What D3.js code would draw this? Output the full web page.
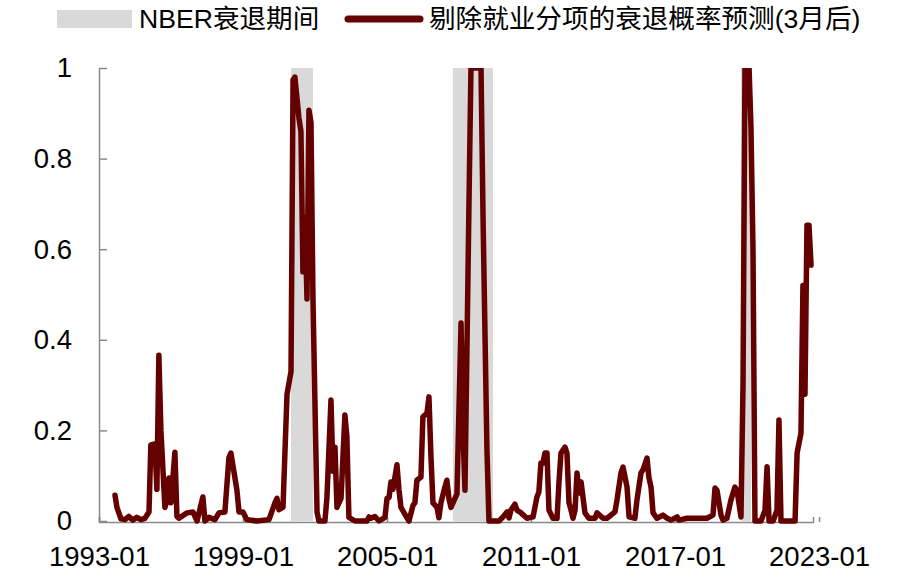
<!DOCTYPE html>
<html>
<head>
<meta charset="utf-8">
<script src="https://cdn.jsdelivr.net/npm/d3@7"></script>
<style>
  body { margin: 0; background: #fff; }
  text { font-family: "Liberation Sans", Arial, "Noto Sans CJK SC", sans-serif; fill: #000; }
</style>
</head>
<body>
<svg id="chart"></svg>
<script>
// series: recession probability forecast excluding employment (3 months ahead)
var dates = [
  "1993-09","1993-10","1993-12","1994-02","1994-04","1994-06","1994-08","1994-10","1994-12",
  "1995-02","1995-03","1995-05","1995-06","1995-07","1995-08","1995-10","1995-11","1995-12",
  "1996-01","1996-03","1996-04","1996-05","1996-09","1996-12","1997-02","1997-05","1997-06",
  "1997-08","1997-11","1998-01","1998-04","1998-06","1998-07","1998-10","1998-11","1999-01",
  "1999-03","1999-08","2000-02","2000-05","2000-06","2000-07","2000-09","2000-11","2001-01",
  "2001-02","2001-03","2001-05","2001-06","2001-07","2001-08","2001-09","2001-10","2001-11",
  "2001-12","2002-02","2002-03","2002-06","2002-07","2002-09","2002-10","2002-11","2002-12",
  "2003-02","2003-04","2003-05","2003-06","2003-09","2004-03","2004-04","2004-05","2004-07",
  "2004-09","2004-12","2005-01","2005-02","2005-03","2005-04","2005-06","2005-07","2005-08",
  "2005-11","2005-12","2006-02","2006-03","2006-04","2006-06","2006-07","2006-09","2006-10",
  "2006-11","2006-12","2007-02","2007-03","2007-04","2007-06","2007-07","2007-08","2007-09",
  "2007-11","2007-12","2008-02","2008-03","2008-04","2008-06","2008-07","2008-10","2008-12",
  "2009-01","2009-03","2009-04","2009-09","2009-11","2010-01","2010-02","2010-03","2010-05",
  "2010-06","2010-08","2010-11","2011-02","2011-04","2011-05","2011-06","2011-07","2011-08",
  "2011-09","2011-10","2011-12","2012-02","2012-03","2012-04","2012-06","2012-07","2012-08",
  "2012-09","2012-10","2012-11","2012-12","2013-01","2013-02","2013-04","2013-06","2013-09",
  "2013-10","2014-01","2014-03","2014-07","2014-08","2014-10","2014-11","2015-01","2015-02",
  "2015-05","2015-06","2015-08","2015-09","2015-11","2015-12","2016-01","2016-02","2016-04",
  "2016-07","2016-09","2016-11","2017-02","2017-03","2017-07","2017-12","2018-05","2018-08",
  "2018-09","2018-10","2018-12","2019-01","2019-03","2019-05","2019-07","2019-08","2019-10",
  "2019-11","2019-12","2020-02","2020-03","2020-04","2020-05","2020-08","2020-10","2020-11",
  "2020-12","2021-02","2021-04","2021-05","2021-06","2021-09","2022-01","2022-02","2022-04",
  "2022-05","2022-06","2022-07","2022-08","2022-09"
]
var probs = [
  0.057,0.03,0.005,0.003,0.01,0.002,0.008,0.003,0.006,
  0.02,0.168,0.17,0.07,0.366,0.2,0.03,0.046,0.095,
  0.04,0.152,0.01,0.006,0.018,0.02,0.0,0.053,0.0,
  0.008,0.003,0.018,0.02,0.14,0.15,0.068,0.02,0.02,
  0.003,0.0,0.003,0.04,0.05,0.025,0.03,0.28,0.33,
  0.974,0.98,0.89,0.86,0.55,0.67,0.49,0.907,0.88,
  0.49,0.02,0.0,0.0,0.05,0.267,0.11,0.163,0.03,
  0.05,0.234,0.186,0.008,0.0,0.0,0.009,0.006,0.01,
  0.0,0.008,0.05,0.052,0.086,0.07,0.124,0.07,0.03,
  0.007,0.0,0.035,0.04,0.09,0.097,0.23,0.238,0.274,
  0.14,0.04,0.03,0.007,0.04,0.075,0.09,0.05,0.03,
  0.05,0.06,0.437,0.2,0.068,0.70,1.0,1.0,1.0,
  0.67,0.16,0.0,0.0,0.009,0.02,0.007,0.024,0.037,
  0.024,0.018,0.006,0.009,0.053,0.064,0.128,0.128,0.15,
  0.15,0.024,0.006,0.006,0.084,0.15,0.163,0.15,0.04,
  0.024,0.006,0.024,0.106,0.062,0.086,0.018,0.006,0.006,
  0.018,0.006,0.006,0.02,0.046,0.106,0.119,0.075,0.009,
  0.006,0.046,0.106,0.113,0.139,0.095,0.075,0.018,0.006,
  0.013,0.006,0.002,0.009,0.002,0.006,0.006,0.006,0.013,
  0.073,0.068,0.013,0.002,0.006,0.046,0.075,0.068,0.009,
  0.3,1.0,1.0,0.87,0.6,0.0,0.0,0.024,0.12,
  0.0,0.0,0.024,0.223,0.0,0.0,0.0,0.15,0.194,
  0.52,0.28,0.653,0.653,0.565
]

// NBER recession periods (as shaded in the picture)
var recStart = ["2001-01", "2007-10", "2019-10"]
var recEnd = ["2001-12", "2009-06", "2020-03"]

// ticks
var xTickLabels = ["1993-01", "1999-01", "2005-01", "2011-01", "2017-01", "2023-01"]
var yTicks = [0, 0.2, 0.4, 0.6, 0.8, 1]

var legendLabels = ["NBER衰退期间", "剔除就业分项的衰退概率预测(3月后)"]

var width = 911, height = 580
var plot = {left: 99, right: 813, top: 68, bottom: 521}

var parseMonth = d3.timeParse("%Y-%m")

var svg = d3.select("#chart")
  .attr("width", width)
  .attr("height", height)

var x = d3.scaleTime()
  .domain([parseMonth("1993-01"), parseMonth("2022-10")])
  .range([plot.left, plot.right])

var y = d3.scaleLinear()
  .domain([0, 1])
  .range([plot.bottom, plot.top])

// recession shading
svg.append("g")
  .selectAll("rect")
  .data(recStart)
  .enter()
  .append("rect")
    .attr("x", function(d) { return x(parseMonth(d)); })
    .attr("width", function(d, i) { return x(parseMonth(recEnd[i])) - x(parseMonth(d)); })
    .attr("y", y(1))
    .attr("height", y(0) - y(1))
    .attr("fill", "#d9d9d9")

// y axis
var yAxis = d3.axisLeft(y)
  .tickValues(yTicks)
  .tickFormat(d3.format("~g"))
  .tickSizeInner(-8)
  .tickSizeOuter(0)
  .tickPadding(27)

var gy = svg.append("g")
  .attr("transform", "translate(" + plot.left + ",0)")
  .call(yAxis)
gy.select(".domain").attr("stroke", "#898989").attr("stroke-width", 1.5)
gy.selectAll(".tick line").attr("stroke", "#898989").attr("stroke-width", 1.5)
gy.selectAll(".tick text")
  .style("font-size", "27.5px")
  .attr("fill", "#000")

// x axis
var xAxis = d3.axisBottom(x)
  .tickValues(xTickLabels.map(parseMonth))
  .tickFormat(d3.timeFormat("%Y-%m"))
  .tickSizeInner(-5)
  .tickSizeOuter(-5)
  .tickPadding(0)

var gx = svg.append("g")
  .attr("transform", "translate(0," + (plot.bottom + 1) + ")")
  .call(xAxis)
gx.select(".domain").attr("stroke", "#898989").attr("stroke-width", 1.5)
gx.selectAll(".tick line").attr("stroke", "#898989").attr("stroke-width", 1.5)
gx.selectAll(".tick text")
  .style("font-size", "27.5px")
  .attr("fill", "#000")
  .attr("y", 44)
  .attr("dy", 0)

// clip line to plot area top
svg.append("clipPath")
  .attr("id", "clip")
  .append("rect")
    .attr("x", 0)
    .attr("y", plot.top)
    .attr("width", width)
    .attr("height", height - plot.top)

var line = d3.line()
  .x(function(d, i) { return x(parseMonth(dates[i])); })
  .y(function(d) { return y(d); })

svg.append("path")
  .datum(probs)
  .attr("clip-path", "url(#clip)")
  .attr("d", line)
  .attr("fill", "none")
  .attr("stroke", "#640000")
  .attr("stroke-width", 5.5)
  .attr("stroke-linejoin", "round")
  .attr("stroke-linecap", "round")

// legend
var legend = svg.append("g")
legend.append("rect")
  .attr("x", 57).attr("y", 10)
  .attr("width", 75).attr("height", 18)
  .attr("fill", "#d9d9d9")
legend.append("text")
  .attr("x", 139).attr("y", 28)
  .style("font-size", "26.6px")
  .text(legendLabels[0])
legend.append("line")
  .attr("x1", 348).attr("x2", 420)
  .attr("y1", 19).attr("y2", 19)
  .attr("stroke", "#640000")
  .attr("stroke-width", 7)
  .attr("stroke-linecap", "round")
legend.append("text")
  .attr("x", 429).attr("y", 28)
  .style("font-size", "26.6px")
  .text(legendLabels[1])
</script>
</body>
</html>
